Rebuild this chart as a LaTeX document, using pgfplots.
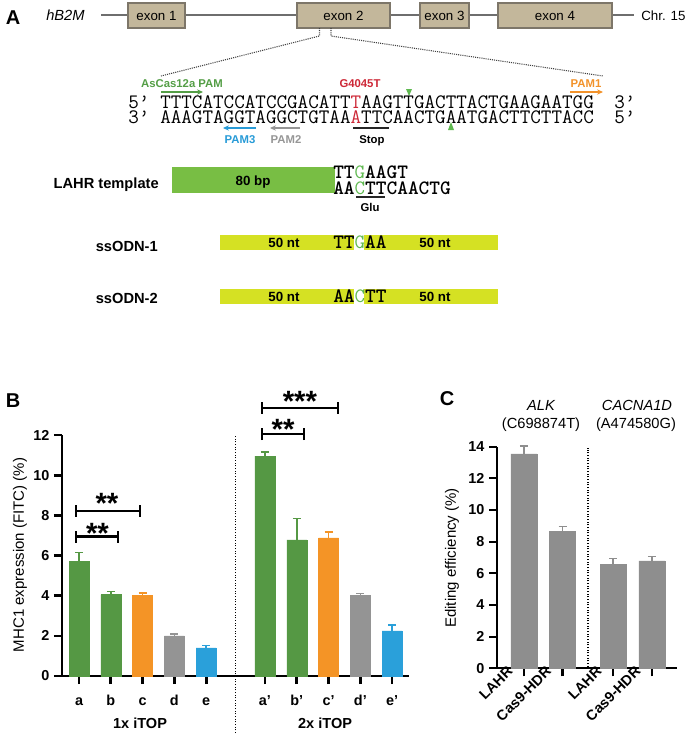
\documentclass[border=0pt]{standalone}
\usepackage{fontspec}
\setmainfont{Liberation Sans}
\usepackage{pgfplots}
\pgfplotsset{compat=1.18}
\usetikzlibrary{arrows.meta}

\definecolor{exontan}{RGB}{195,183,155}
\definecolor{exonedge}{RGB}{125,118,105}
\definecolor{genegray}{RGB}{110,110,110}
\definecolor{pamgreen}{RGB}{84,158,70}
\definecolor{seqred}{RGB}{205,40,55}
\definecolor{pamorange}{RGB}{242,146,42}
\definecolor{pamblue}{RGB}{40,155,215}
\definecolor{pamgray}{RGB}{150,150,150}
\definecolor{lahrgreen}{RGB}{120,190,68}
\definecolor{ssyellow}{RGB}{213,225,35}
\definecolor{ntgreen}{RGB}{95,185,80}
\definecolor{bgreen}{RGB}{85,152,68}
\definecolor{borange}{RGB}{244,148,38}
\definecolor{bgray}{RGB}{148,148,148}
\definecolor{bblue}{RGB}{42,160,218}
\definecolor{cgray}{RGB}{142,142,142}

\newcommand{\fs}[1]{\fontsize{#1}{#1}\selectfont}
\newcommand{\seq}{\ttfamily\fs{15.4}}
\newcommand{\tpl}{\ttfamily\bfseries\fs{15.3}}

% significance bracket: x1, x2, y (axis units)
\newcommand{\sigbar}[3]{%
  \draw[line width=1.8pt] (axis cs:#1,#3) -- (axis cs:#2,#3);
  \draw[line width=1.8pt] (axis cs:#1,#3-0.3) -- (axis cs:#1,#3+0.3);
  \draw[line width=1.8pt] (axis cs:#2,#3-0.3) -- (axis cs:#2,#3+0.3);}

\pgfplotsset{
  panel/.style={
    scale only axis, clip=false,
    axis lines*=left, axis line style={line width=2pt, -},
    tick align=outside, xtick pos=left, ytick pos=left,
    major tick length=6pt,
    every tick/.style={black, line width=2pt},
    /pgf/number format/assume math mode=true,
    ticklabel style={font=\bfseries\fs{10.8}},
    ymin=0, ybar,
    error bars/y dir=plus, error bars/y explicit,
  },
  errc/.style={
    error bars/error bar style={#1, line width=1.1pt},
    error bars/error mark options={#1, rotate=90, line width=1.1pt, mark size=3pt},
  },
}

\begin{document}
\begin{tikzpicture}
\begin{scope}[x=0.75pt,y=-0.75pt]
\useasboundingbox (0,0) rectangle (693,740);

% ---- panel A: gene ----
\node[font=\bfseries\fs{15}, anchor=base] at (13,24) {A};
\node[font=\itshape\fs{11}, anchor=base west, inner sep=0] at (46,20.5) {hB2M};
\draw[genegray, line width=1.1pt] (101,15) -- (634,15);
\foreach \a/\b/\t in {128/185/exon 1, 297/390/exon 2, 420/469/exon 3, 498/612/exon 4}{
  \draw[fill=exontan, draw=exonedge, line width=0.8pt] (\a,3) rectangle (\b,28);
  \node[font=\fs{10}, anchor=base] at ({(\a+\b)/2},20) {\t};
}
\node[font=\fs{10}, anchor=base west, inner sep=0] at (641,20) {Chr. 15};
\draw[black!75, line width=0.8pt, dash pattern=on 0.8pt off 0.8pt] (319.5,28) -- (319.5,36) -- (161,76);
\draw[black!75, line width=0.8pt, dash pattern=on 0.8pt off 0.8pt] (331,28) -- (331,36) -- (603,76);

% ---- sequence ----
\node[font=\bfseries\fs{8.5}, text=pamgreen, anchor=base] at (182,87) {AsCas12a PAM};
\draw[pamgreen, line width=1.1pt, -{Stealth[length=4.5pt,width=4pt]}] (161,92) -- (203,92);
\node[font=\bfseries\fs{8.5}, text=seqred, anchor=base] at (360,87) {G4045T};
\node[font=\bfseries\fs{8.5}, text=pamorange, anchor=base] at (586,87) {PAM1};
\draw[pamorange, line width=1.1pt, -{Stealth[length=4.5pt,width=4pt]}] (570,92) -- (603,92);
\fill[ntgreen] (406,89) -- (412,89) -- (409,96) -- cycle;

\node[font=\seq, anchor=base west, inner sep=0] at (128,108) {5’};
\node[font=\seq, anchor=base west, inner sep=0] at (160,108)
  {TTTCATCCATCCGACATT\textcolor{seqred}{T}AAGTTGACTTACTGAAGAATGG};
\node[font=\seq, anchor=base west, inner sep=0] at (614,108) {3’};
\node[font=\seq, anchor=base west, inner sep=0] at (128,123) {3’};
\node[font=\seq, anchor=base west, inner sep=0] at (160,123)
  {AAAGTAGGTAGGCTGTAA\textcolor{seqred}{A}TTCAACTGAATGACTTCTTACC};
\node[font=\seq, anchor=base west, inner sep=0] at (614,123) {5’};
\fill[ntgreen] (448,130) -- (454,130) -- (451,122) -- cycle;

\draw[pamblue, line width=1.1pt, -{Stealth[length=4.5pt,width=4pt]}] (256,128) -- (223,128);
\node[font=\bfseries\fs{8.5}, text=pamblue, anchor=base] at (240,143) {PAM3};
\draw[pamgray, line width=1.1pt, -{Stealth[length=4.5pt,width=4pt]}] (300,128) -- (270,128);
\node[font=\bfseries\fs{8.5}, text=pamgray, anchor=base] at (286,143) {PAM2};
\draw[black!85, line width=1.3pt] (353,128) -- (389,128);
\node[font=\bfseries\fs{8.5}, anchor=base] at (372,143) {Stop};

% ---- templates ----
\node[font=\bfseries\fs{11}, anchor=base east, inner sep=0] at (159,188) {LAHR template};
\fill[lahrgreen] (172,167) rectangle (335,193);
\node[font=\bfseries\fs{10}, anchor=base] at (253,185) {80 bp};
\node[font=\tpl, anchor=base west, inner sep=0] at (333,178)
  {TT\textcolor{ntgreen}{\mdseries G}AAGT};
\node[font=\tpl, anchor=base west, inner sep=0] at (333,194)
  {AA\textcolor{ntgreen}{\mdseries C}TTCAACTG};
\draw[black!85, line width=1.1pt] (356,197) -- (385,197);
\node[font=\bfseries\fs{8.5}, anchor=base] at (370,211) {Glu};

\node[font=\bfseries\fs{11}, anchor=base east, inner sep=0] at (158,251) {ssODN-1};
\fill[ssyellow] (220,235) rectangle (354,250);
\fill[ssyellow] (364,235) rectangle (498,250);
\node[font=\bfseries\fs{10}, anchor=base] at (284,247.5) {50 nt};
\node[font=\bfseries\fs{10}, anchor=base] at (435,247.5) {50 nt};
\node[font=\tpl, anchor=base west, inner sep=0] at (333,248)
  {TT\textcolor{ntgreen}{\mdseries G}AA};

\node[font=\bfseries\fs{11}, anchor=base east, inner sep=0] at (158,303) {ssODN-2};
\fill[ssyellow] (220,289) rectangle (354,304);
\fill[ssyellow] (364,289) rectangle (498,304);
\node[font=\bfseries\fs{10}, anchor=base] at (284,301.5) {50 nt};
\node[font=\bfseries\fs{10}, anchor=base] at (435,301.5) {50 nt};
\node[font=\tpl, anchor=base west, inner sep=0] at (333,302)
  {AA\textcolor{ntgreen}{\mdseries C}TT};

% ---- panel letters and C headers ----
\node[font=\bfseries\fs{15}, anchor=base] at (13,407) {B};
\node[font=\bfseries\fs{15}, anchor=base] at (447,405) {C};
\node[font=\itshape\fs{11}, anchor=base] at (541,410) {ALK};
\node[font=\fs{11}, anchor=base] at (541,428) {(C698874T)};
\node[font=\itshape\fs{11}, anchor=base] at (637,410) {CACNA1D};
\node[font=\fs{11}, anchor=base] at (636,428) {(A474580G)};
\end{scope}

% ---- panel B ----
\begin{axis}[panel,
  at={(62*0.75pt,-676*0.75pt)}, anchor=south west,
  width=260.25pt, height=180.75pt,
  xmin=-0.535, xmax=10.38, ymax=12,
  ytick={0,2,...,12},
  xtick={0,1,2,3,4,5.85,6.85,7.85,8.85,9.85},
  xticklabels={a,b,c,d,e,a',b',c',d',e'},
  xticklabel style={text height=8pt, text depth=0pt, yshift=-4.5pt},
  every axis plot/.append style={bar width=15pt, bar shift=0pt},
  ylabel={MHC1 expression (FITC) (\%)},
  every axis y label/.style={at={(axis description cs:-0.121,0.502)}, rotate=90, anchor=center, font=\fs{11.25}},
]
\addplot[fill=bgreen, draw=bgreen, errc=bgreen] coordinates {
  (0,5.72) +- (0,0.43)
  (1,4.05) +- (0,0.15)
  (5.85,10.95) +- (0,0.2)
  (6.85,6.78) +- (0,1.05)
};
\addplot[fill=borange, draw=borange, errc=borange] coordinates {
  (2,4.0) +- (0,0.13)
  (7.85,6.88) +- (0,0.3)
};
\addplot[fill=bgray, draw=bgray, errc=bgray] coordinates {
  (3,2.0) +- (0,0.1)
  (8.85,4.0) +- (0,0.1)
};
\addplot[fill=bblue, draw=bblue, errc=bblue] coordinates {
  (4,1.4) +- (0,0.12)
  (9.85,2.25) +- (0,0.3)
};
\draw[line width=0.9pt, dash pattern=on 0.9pt off 1.1pt] (axis cs:4.925,-2.84) -- (axis cs:4.925,11.95);
\sigbar{-0.09}{1.23}{6.94}
\sigbar{-0.09}{1.92}{8.22}
\sigbar{5.75}{7.08}{12.05}
\sigbar{5.75}{8.14}{13.35}
\node[font=\bfseries\fs{22}, anchor=base, yshift=-12.5pt] at (axis cs:0.58,7.42) {**};
\node[font=\bfseries\fs{22}, anchor=base, yshift=-12.5pt] at (axis cs:0.88,8.91) {**};
\node[font=\bfseries\fs{22}, anchor=base, yshift=-12.5pt] at (axis cs:6.42,12.6) {**};
\node[font=\bfseries\fs{22}, anchor=base, yshift=-12.5pt] at (axis cs:6.95,13.99) {***};
\node[font=\bfseries\fs{10.9}] at (axis cs:1.92,-2.34) {1x iTOP};
\node[font=\bfseries\fs{10.9}] at (axis cs:7.74,-2.34) {2x iTOP};
\end{axis}

% ---- panel C ----
\begin{axis}[panel,
  at={(497*0.75pt,-668.3*0.75pt)}, anchor=south west,
  width=135pt, height=166.2pt,
  xmin=-0.70, xmax=3.97, ymax=14,
  ytick={0,2,...,14},
  xtick={0,1,2.31,3.32},
  xticklabels={LAHR,Cas9-HDR,LAHR,Cas9-HDR},
  xticklabel style={xshift=-8pt, yshift=8pt, rotate=45, anchor=east},
  every axis plot/.append style={bar width=19.5pt, bar shift=0pt},
  axis line style={line width=1.6pt, -},
  every tick/.style={black, line width=1.6pt},
  ylabel={Editing efficiency (\%)},
  every axis y label/.style={at={(axis description cs:-0.25,0.498)}, rotate=90, anchor=center, font=\fs{11.25}},
]
\addplot[fill=cgray, draw=cgray, errc=cgray] coordinates {
  (0,13.55) +- (0,0.5)
  (1,8.65) +- (0,0.3)
  (2.31,6.55) +- (0,0.4)
  (3.32,6.78) +- (0,0.27)
};
\draw[line width=0.9pt, dash pattern=on 0.9pt off 1.1pt] (axis cs:1.66,0.1) -- (axis cs:1.66,13.95);
\end{axis}
\end{tikzpicture}
\end{document}
